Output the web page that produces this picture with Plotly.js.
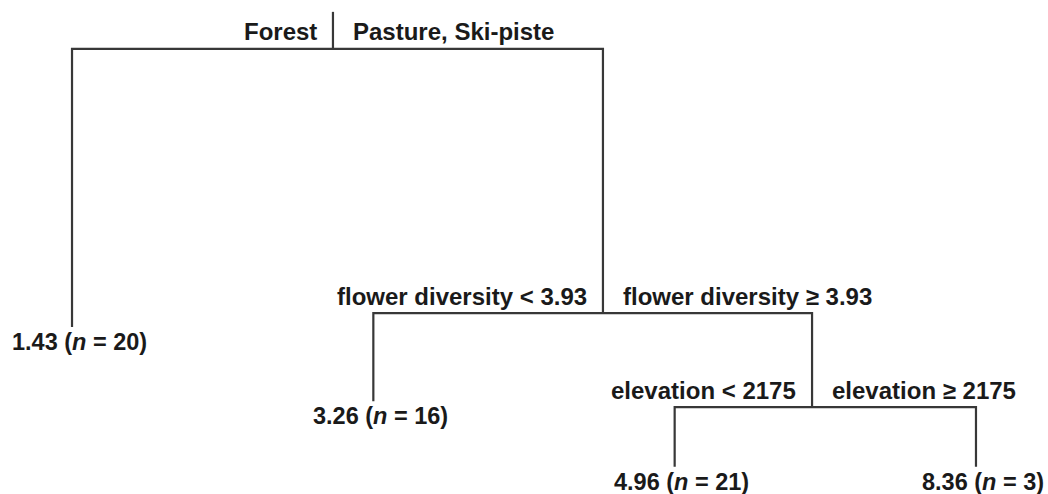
<!DOCTYPE html>
<html>
<head>
<meta charset="utf-8">
<script src="https://cdn.plot.ly/plotly-3.0.1.min.js"></script>
<style>html,body{margin:0;padding:0;background:#fff;}#chart{width:1048px;height:494px;}</style>
</head>
<body>
<div id="chart"></div>
<script>
// Regression tree nodes (rpart-style layout: x = leaf order, y = node height)
const nodeIds     = [1, 2, 3, 6, 7, 14, 15];
const nodeParent  = [0, 1, 1, 3, 3, 7, 7];
const nodeX       = [1.866, 1.0, 2.762, 2.0, 3.456, 3.0, 4.0];
const nodeY       = [9.01, 3.38, 3.66, 1.88, 1.76, 0.55, 0.55];
const rootStemTop = 9.76;

// Split labels of internal nodes (left branch, right branch)
const splitNodes  = [1, 3, 7];
const leftLabels  = ["Forest", "flower diversity < 3.93", "elevation < 2175"];
const rightLabels = ["Pasture, Ski-piste", "flower diversity \u2265 3.93", "elevation \u2265 2175"];

// Leaf values
const leafNodes   = [2, 6, 14, 15];
const leafMeans   = ["1.43", "3.26", "4.96", "8.36"];
const leafN       = [20, 16, 21, 3];

const idx = id => nodeIds.indexOf(id);
const lineStyle = {color: "#383838", width: 2.2};
const traces = [];

// root stem
traces.push({x: [nodeX[0], nodeX[0]], y: [nodeY[0], rootStemTop], mode: "lines", line: lineStyle, hoverinfo: "skip"});

// branches
splitNodes.forEach(id => {
  const p = idx(id);
  const kids = nodeIds.map((k, i) => i).filter(i => nodeParent[i] === id);
  const L = kids[0], R = kids[1];
  traces.push({
    x: [nodeX[L], nodeX[L], nodeX[R], nodeX[R]],
    y: [nodeY[L], nodeY[p], nodeY[p], nodeY[R]],
    mode: "lines", line: lineStyle, hoverinfo: "skip"
  });
});

const font = {family: "Liberation Sans, Arial, sans-serif", size: 24, color: "#1a1a1a", weight: "bold"};
const leafFont = {family: "Liberation Sans, Arial, sans-serif", size: 23.5, color: "#1a1a1a", weight: "bold"};
const annotations = [];
splitNodes.forEach((id, k) => {
  const p = idx(id);
  annotations.push({x: nodeX[p], y: nodeY[p], text: leftLabels[k], showarrow: false,
    xanchor: "right", yanchor: "middle", xshift: -14, yshift: 17, font: font});
  annotations.push({x: nodeX[p], y: nodeY[p], text: rightLabels[k], showarrow: false,
    xanchor: "left", yanchor: "middle", xshift: 18, yshift: 17, font: font});
});
leafNodes.forEach((id, k) => {
  const p = idx(id);
  annotations.push({x: nodeX[p], y: nodeY[p], text: leafMeans[k] + " (<i>n</i> = " + leafN[k] + ")",
    showarrow: false, xanchor: "center", yanchor: "middle", xshift: 7, yshift: -15, font: leafFont});
});

const layout = {
  width: 1048, height: 494,
  margin: {l: 0, r: 0, t: 0, b: 0},
  paper_bgcolor: "#ffffff", plot_bgcolor: "#ffffff",
  showlegend: false,
  xaxis: {range: [0.761, 4.239], visible: false, fixedrange: true},
  yaxis: {range: [0, 10], visible: false, fixedrange: true},
  annotations: annotations
};
Plotly.newPlot("chart", traces, layout, {displayModeBar: false, staticPlot: true});
</script>
</body>
</html>
